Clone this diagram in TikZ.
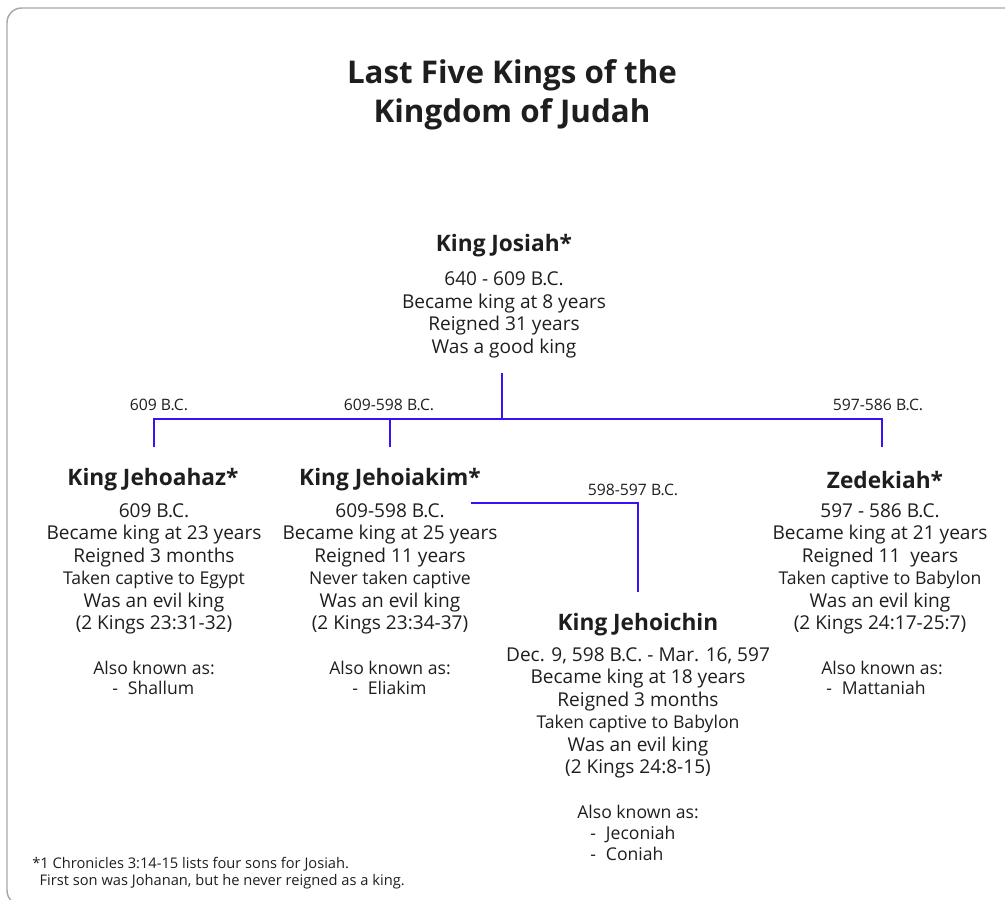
\documentclass[tikz,border=0pt]{standalone}
\usepackage{fontspec}
\setmainfont{Open Sans}
\usetikzlibrary{positioning}
\definecolor{TreeBlue}{HTML}{3A10F5}
\definecolor{FrameGray}{HTML}{A8A8A8}
\definecolor{InkDark}{HTML}{1E1E1E}
\newcommand{\minorline}[1]{{\fontsize{13.2}{16.9}\selectfont #1}}

\begin{document}
\begin{tikzpicture}[x=0.75pt,y=-0.75pt,
  kingname/.style={font=\bfseries\fontsize{17}{20}\selectfont,text=InkDark,inner sep=0pt},
  kinginfo/.style={font=\fontsize{14.3}{16.9}\selectfont,text=InkDark,align=center,inner sep=0pt},
  alsoknown/.style={font=\fontsize{13.2}{15.6}\selectfont,text=InkDark,align=left,inner sep=0pt},
  era/.style={font=\fontsize{11.8}{13}\selectfont,text=InkDark,inner sep=0pt},
  lineage/.style={draw=TreeBlue,line width=1.6pt}]
  \useasboundingbox (0,0) rectangle (1005,899);
  \draw[FrameGray,line width=1.1pt,rounded corners=11pt] (7,8) rectangle (1040,905);

  % title
  \node[font=\bfseries\fontsize{23.5}{29.3}\selectfont,text=InkDark,align=center,inner sep=0pt]
    (title) at (512,95) {Last Five Kings of the\\Kingdom of Judah};

  % Josiah
  \node[kingname] (josiah) at (504,246) {King Josiah*};
  \node[kinginfo] (josiah-info) at (504,315)
    {640 - 609 B.C.\\Became king at 8 years\\Reigned 31 years\\Was a good king};

  % sons
  \node[kingname] (jehoahaz) at (153,480) {King Jehoahaz*};
  \node[kinginfo] (jehoahaz-info) at (154,569)
    {609 B.C.\\Became king at 23 years\\Reigned 3 months\\\minorline{Taken captive to Egypt}\\Was an evil king\\(2 Kings 23:31-32)};
  \node[alsoknown] (jehoahaz-aka) at (154,668) {Also known as:};
  \node[alsoknown,anchor=west] (jehoahaz-alias) at (112,688) {-\hspace{7.5pt}Shallum};

  \node[kingname] (jehoiakim) at (390,480) {King Jehoiakim*};
  \node[kinginfo] (jehoiakim-info) at (390,569)
    {609-598 B.C.\\Became king at 25 years\\Reigned 11 years\\\minorline{Never taken captive}\\Was an evil king\\(2 Kings 23:34-37)};
  \node[alsoknown] (jehoiakim-aka) at (390,668) {Also known as:};
  \node[alsoknown,anchor=west] (jehoiakim-alias) at (352,688) {-\hspace{7.5pt}Eliakim};

  \node[kingname] (jehoichin) at (638,625) {King Jehoichin};
  \node[kinginfo] (jehoichin-info) at (638,713)
    {Dec. 9, 598 B.C. - Mar. 16, 597\\Became king at 18 years\\Reigned 3 months\\\minorline{Taken captive to Babylon}\\Was an evil king\\(2 Kings 24:8-15)};
  \node[alsoknown] (jehoichin-aka) at (638,812) {Also known as:};
  \node[alsoknown,anchor=west] (jehoichin-alias) at (590,843)
    {-\hspace{7.5pt}Jeconiah\\-\hspace{7.5pt}Coniah};

  \node[kingname] (zedekiah) at (885,480) {Zedekiah*};
  \node[kinginfo] (zedekiah-info) at (880,569)
    {597 - 586 B.C.\\Became king at 21 years\\Reigned 11\ \ years\\\minorline{Taken captive to Babylon}\\Was an evil king\\(2 Kings 24:17-25:7)};
  \node[alsoknown] (zedekiah-aka) at (882,668) {Also known as:};
  \node[alsoknown,anchor=west] (zedekiah-alias) at (826,688) {-\hspace{7.5pt}Mattaniah};

  % reign labels
  \node[era] (era-jehoahaz) at (159,405) {609 B.C.};
  \node[era] (era-jehoiakim) at (389,405) {609-598 B.C.};
  \node[era] (era-zedekiah) at (878,405) {597-586 B.C.};
  \node[era] (era-jehoichin) at (633,490) {598-597 B.C.};

  % tree lines
  \coordinate (josiah-stem) at (502,373);
  \coordinate (bar-mid) at (502,419);
  \coordinate (bar-w) at (154,419);
  \coordinate (bar-e) at (882,419);
  \coordinate (bar-kim) at (390,419);
  \coordinate (drop-jehoahaz) at (154,447);
  \coordinate (drop-jehoiakim) at (390,447);
  \coordinate (drop-zedekiah) at (882,447);
  \coordinate (kim-branch) at (471,503);
  \coordinate (chin-bend) at (638,503);
  \coordinate (drop-jehoichin) at (638,592);
  \draw[lineage] (josiah-stem)--(bar-mid);
  \draw[lineage] (drop-jehoahaz)--(bar-w)--(bar-e)--(drop-zedekiah);
  \draw[lineage] (bar-kim)--(drop-jehoiakim);
  \draw[lineage] (kim-branch)--(chin-bend)--(drop-jehoichin);

  % footnote
  \node[font=\fontsize{11}{12.75}\selectfont,text=InkDark,align=left,inner sep=0pt,anchor=north west]
    (footnote) at (32,857)
    {*1 Chronicles 3:14-15 lists four sons for Josiah.\\\hspace*{5.5pt}First son was Johanan, but he never reigned as a king.};
\end{tikzpicture}
\end{document}
